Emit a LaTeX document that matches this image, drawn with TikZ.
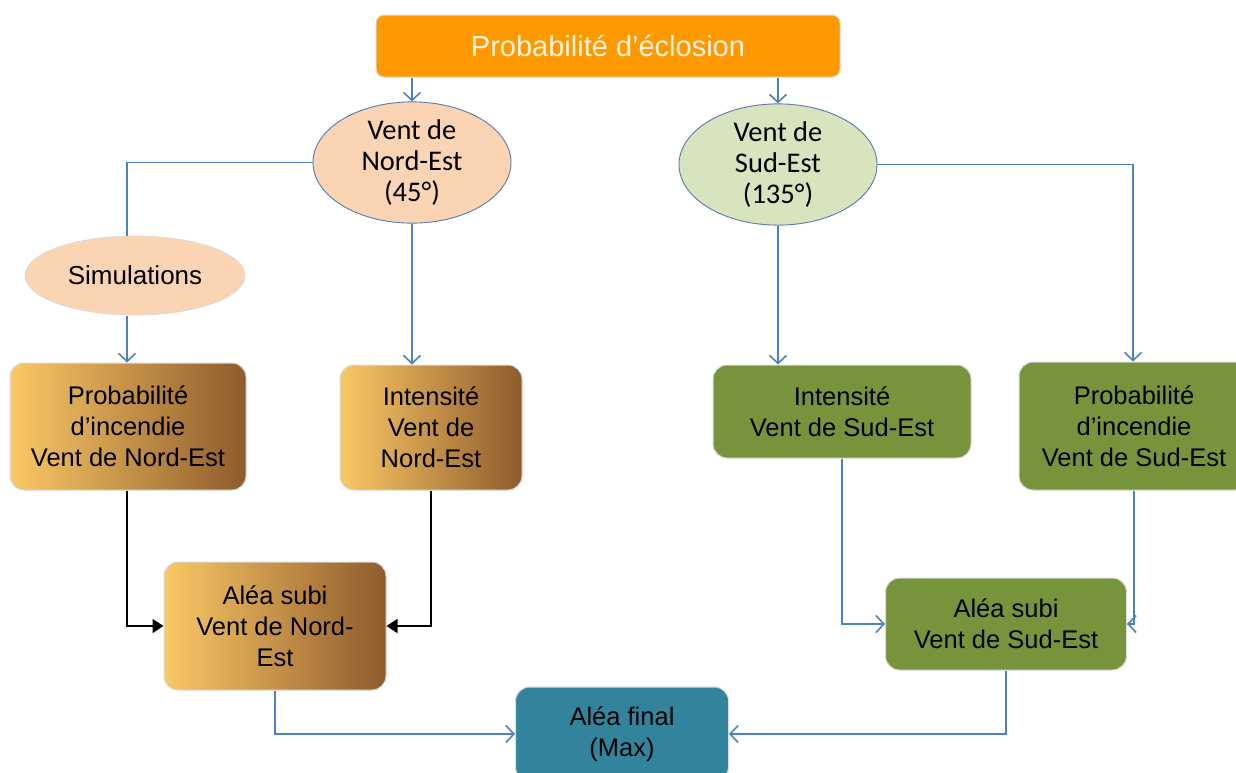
\documentclass[tikz,border=0pt]{standalone}
\usepackage{fontspec}
\setmainfont{Liberation Sans}
\newfontfamily\calfont{Carlito}
\usetikzlibrary{arrows.meta,calc,shapes.geometric}

\definecolor{topfill}{HTML}{FF9900}
\definecolor{toptext}{HTML}{FFF3E0}
\definecolor{peach}{HTML}{FBD4B4}
\definecolor{palegreen}{HTML}{D7E4BD}
\definecolor{olive}{HTML}{77933C}
\definecolor{teal}{HTML}{31849B}
\definecolor{lineblue}{HTML}{4F81BD}
\definecolor{ovaledge}{HTML}{5A7AAE}
\definecolor{boxedge}{HTML}{DADADA}
\definecolor{goldL}{HTML}{FAC865}
\definecolor{goldR}{HTML}{8E5B2D}

\tikzset{
  box/.style={draw=boxedge, line width=1pt, rounded corners=14pt, align=center,
    inner sep=0pt, font=\fontsize{25.5}{31}\selectfont},
  goldbox/.style={box, left color=goldL, right color=goldR},
  greenbox/.style={box, fill=olive},
  oval/.style={ellipse, draw=ovaledge, line width=0.9pt, inner sep=0pt, align=center,
    font=\calfont\fontsize{28.5}{31}\selectfont},
  flow/.style={draw=lineblue, line width=1.8pt, -{Straight Barb[length=8pt,width=17pt,line width=1.6pt]}},
  blackflow/.style={draw=black, line width=1.8pt, -{Triangle[length=11pt,width=14pt]}},
  plain/.style={draw=lineblue, line width=1.8pt},
}

\begin{document}
\begin{tikzpicture}[x=1pt,y=-1pt]
  \useasboundingbox (0,0) rectangle (1236,772);
  \clip (0,0) rectangle (1236,772);
  \fill[white] (0,0) rectangle (1236,772);

  % top source
  \node[box, fill=topfill, rounded corners=8pt, minimum width=464pt, minimum height=62pt,
        text=toptext, font=\fontsize{29}{32}\selectfont] (top) at (608,46) {Probabilit\'e d’\'eclosion};

  % wind directions
  \node[oval, fill=peach, minimum width=198pt, minimum height=105pt] (ne) at (412,162.5)
       {Vent de\\Nord-Est\\(45°)};
  \node[oval, fill=palegreen, minimum width=198pt, minimum height=105pt] (se) at (778,164.5)
       {Vent de\\Sud-Est\\(135°)};
  \node[ellipse, draw=boxedge, line width=0.8pt, fill=peach, inner sep=0pt,
        minimum width=220pt, minimum height=79pt, font=\fontsize{26}{30}\selectfont]
       (sim) at (135,275.5) {Simulations};

  % north-east branch
  \node[goldbox, minimum width=236pt, minimum height=127pt] (probne) at (128,426.5)
       {Probabilit\'e\\d’incendie\\Vent de Nord-Est};
  \node[goldbox, minimum width=182pt, minimum height=125pt] (intne) at (431,427.5)
       {Intensit\'e\\Vent de\\Nord-Est};
  \node[goldbox, minimum width=222pt, minimum height=128pt] (aleane) at (275,626)
       {Al\'ea subi\\Vent de Nord-\\Est};

  % south-east branch
  \node[greenbox, minimum width=258pt, minimum height=93pt] (intse) at (842,411.5)
       {Intensit\'e\\Vent de Sud-Est};
  \node[greenbox, minimum width=230pt, minimum height=128pt] (probse) at (1134,426)
       {Probabilit\'e\\d’incendie\\Vent de Sud-Est};
  \node[greenbox, minimum width=241pt, minimum height=92pt] (alease) at (1006,624)
       {Al\'ea subi\\Vent de Sud-Est};

  % result
  \node[box, fill=teal, minimum width=213pt, minimum height=94pt] (final) at (622,734)
       {Al\'ea final\\(Max)};

  % connectors
  \draw[flow] (top.south -| ne) -- (ne.north);
  \draw[flow] (top.south -| se) -- (se.north);
  \draw[plain] (ne.west) -| ($(sim.north)+(-8,0)$);
  \draw[flow] ($(sim.south)+(-8,1)$) -- ($(probne.north)+(-1,0)$);
  \draw[flow] (ne.south) -- (ne.south |- intne.north);
  \draw[blackflow] ($(probne.south)+(-1,0)$) |- (aleane.west);
  \draw[blackflow] (intne.south) |- (aleane.east);
  \draw[flow] (aleane.south) |- (final.west);

  \draw[flow] (se.east) -| ($(probse.north)+(-1,0)$);
  \draw[flow] (se.south) -- (se.south |- intse.north);
  \draw[flow] (intse.south) |- (alease.west);
  \draw[flow] (probse.south) |- (alease.east);
  \draw[flow] (alease.south) |- (final.east);
\end{tikzpicture}
\end{document}
